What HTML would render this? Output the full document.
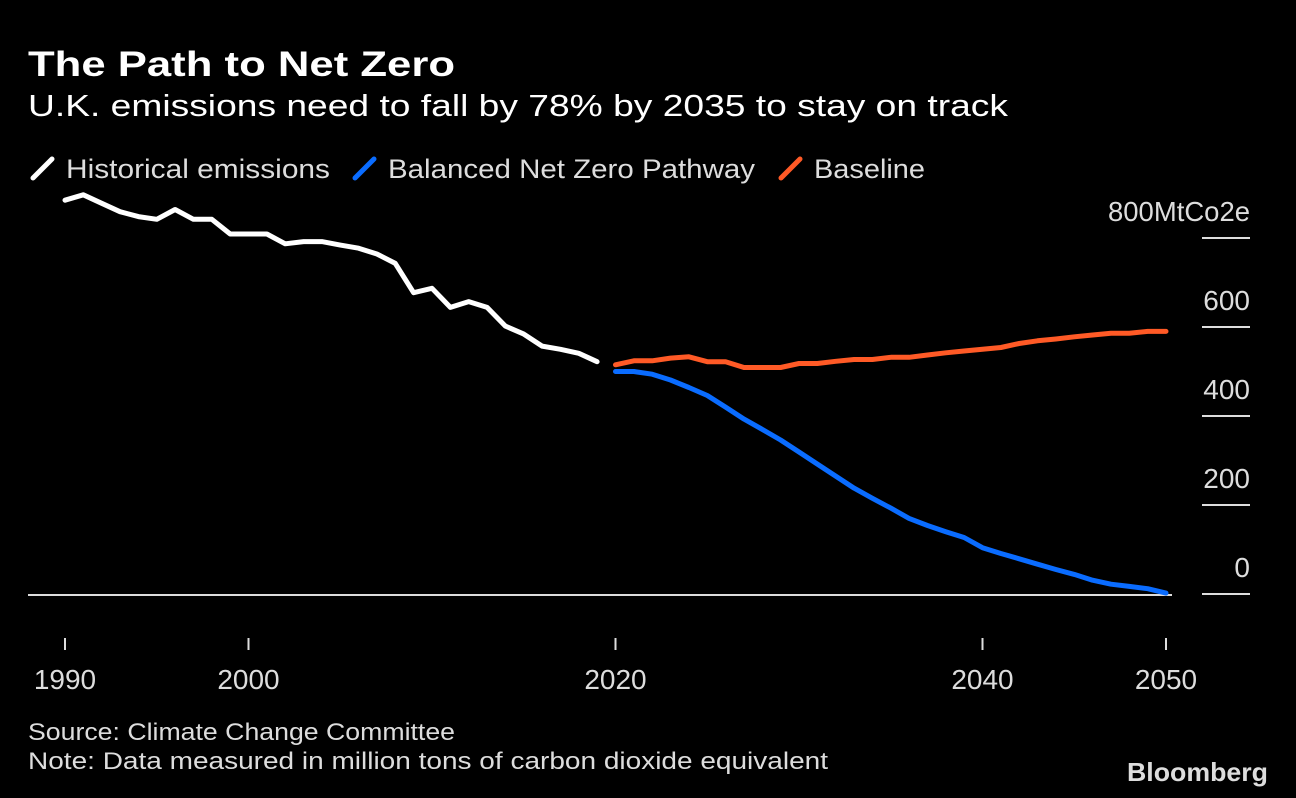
<!DOCTYPE html>
<html><head><meta charset="utf-8"><style>
html,body{margin:0;padding:0;background:#000;}
svg{display:block;font-family:"Liberation Sans",sans-serif;}
</style></head><body>
<svg id="chart" width="1296" height="798" viewBox="0 0 1296 798" xmlns="http://www.w3.org/2000/svg">
<rect width="1296" height="798" fill="#000"/>
<text x="28" y="76" fill="#fff" font-size="35" font-weight="bold" textLength="427" lengthAdjust="spacingAndGlyphs">The Path to Net Zero</text>
<text x="28" y="116" fill="#fff" font-size="31" textLength="980" lengthAdjust="spacingAndGlyphs">U.K. emissions need to fall by 78% by 2035 to stay on track</text>
<g>
<g><line x1="33" y1="178" x2="52" y2="159" stroke="#fff" stroke-width="5" stroke-linecap="round"/><text x="66" y="178" fill="#ddd" font-size="27" textLength="264" lengthAdjust="spacingAndGlyphs">Historical emissions</text></g>
<g><line x1="355" y1="178" x2="374" y2="159" stroke="#0a6cff" stroke-width="5" stroke-linecap="round"/><text x="388" y="178" fill="#ddd" font-size="27" textLength="367" lengthAdjust="spacingAndGlyphs">Balanced Net Zero Pathway</text></g>
<g><line x1="781" y1="178" x2="800" y2="159" stroke="#ff5a26" stroke-width="5" stroke-linecap="round"/><text x="814" y="178" fill="#ddd" font-size="27" textLength="111" lengthAdjust="spacingAndGlyphs">Baseline</text></g>
</g>
<g id="yaxis"></g>
<g id="xaxis"></g>
<g id="series"></g>
<text x="28" y="740" fill="#ddd" font-size="24" textLength="427" lengthAdjust="spacingAndGlyphs">Source: Climate Change Committee</text>
<text x="28" y="769" fill="#ddd" font-size="24" textLength="800" lengthAdjust="spacingAndGlyphs">Note: Data measured in million tons of carbon dioxide equivalent</text>
<text x="1127" y="781" fill="#ddd" font-size="26" font-weight="bold" textLength="141" lengthAdjust="spacingAndGlyphs">Bloomberg</text>
</svg>
<script>
const histYears = [1990,1991,1992,1993,1994,1995,1996,1997,1998,1999,2000,2001,2002,2003,2004,2005,2006,2007,2008,2009,2010,2011,2012,2013,2014,2015,2016,2017,2018,2019];
const histValues = [885,897,878,859,848,842,864,842,842,809,809,809,787,792,792,784,777,764,743,677,687,644,657,644,602,584,557,550,541,522];
const projYears = [2020,2021,2022,2023,2024,2025,2026,2027,2028,2029,2030,2031,2032,2033,2034,2035,2036,2037,2038,2039,2040,2041,2042,2043,2044,2045,2046,2047,2048,2049,2050];
const baselineValues = [515,524,524,530,533,522,522,509,509,509,518,518,523,527,527,532,532,537,542,546,550,554,563,569,573,578,582,586,586,590,590];
const netZeroValues = [500,500,494,481,464,446,420,393,370,346,319,292,265,238,215,193,170,154,140,127,104,91,79,67,55,44,31,22,17,12,2];
const yTicks = [0,200,400,600,800];
const xTicks = [1990,2000,2020,2040,2050];

const NS = "http://www.w3.org/2000/svg";
const xS = y => 65 + (y - 1990) * (1166 - 65) / 60;
const yS = v => 594 - v * 0.445;
function mk(tag, attrs, parent){const e=document.createElementNS(NS,tag);for(const k in attrs)e.setAttribute(k,attrs[k]);parent.appendChild(e);return e;}

const ya = document.getElementById('yaxis');
const xa = document.getElementById('xaxis');
const se = document.getElementById('series');

yTicks.forEach(v=>{
  const y = yS(v);
  if (v===0){
    const zl = mk('line',{x1:28,x2:1172,y1:y+1,y2:y+1,stroke:'#ddd','stroke-width':2},ya);
    
    
  }
  const l = mk('line',{x1:1202,x2:1250,y1:y,y2:y,stroke:'#ddd','stroke-width':2},ya);
  
  
  const t = mk('text',{x:1250,y:y-17,fill:'#ddd','font-size':28,'text-anchor':'end'},ya);
  t.textContent = v===800 ? '800MtCo2e' : String(v);
  if (v===800){ t.setAttribute('textLength',142); t.setAttribute('lengthAdjust','spacingAndGlyphs'); }
  
  
});
xTicks.forEach(yr=>{
  const x = xS(yr);
  const l = mk('line',{x1:x,x2:x,y1:638,y2:650,stroke:'#ddd','stroke-width':2},xa);
  
  
  const t = mk('text',{x:x,y:689,fill:'#ddd','font-size':28,'text-anchor':'middle'},xa);
  t.textContent = String(yr);
  
  
});
function line(years, vals, color, name){
  const d = years.map((y,i)=>(i?'L':'M')+xS(y).toFixed(1)+','+yS(vals[i]).toFixed(1)).join('');
  const p = mk('path',{d:d,fill:'none',stroke:color,'stroke-width':5,'stroke-linejoin':'round','stroke-linecap':'round'},se);
  
  
}
line(histYears, histValues, '#ffffff', 'historical-emissions-line');
line(projYears, baselineValues, '#ff5a26', 'baseline-line');
line(projYears, netZeroValues, '#0a6cff', 'net-zero-pathway-line');
</script>
</body></html>
